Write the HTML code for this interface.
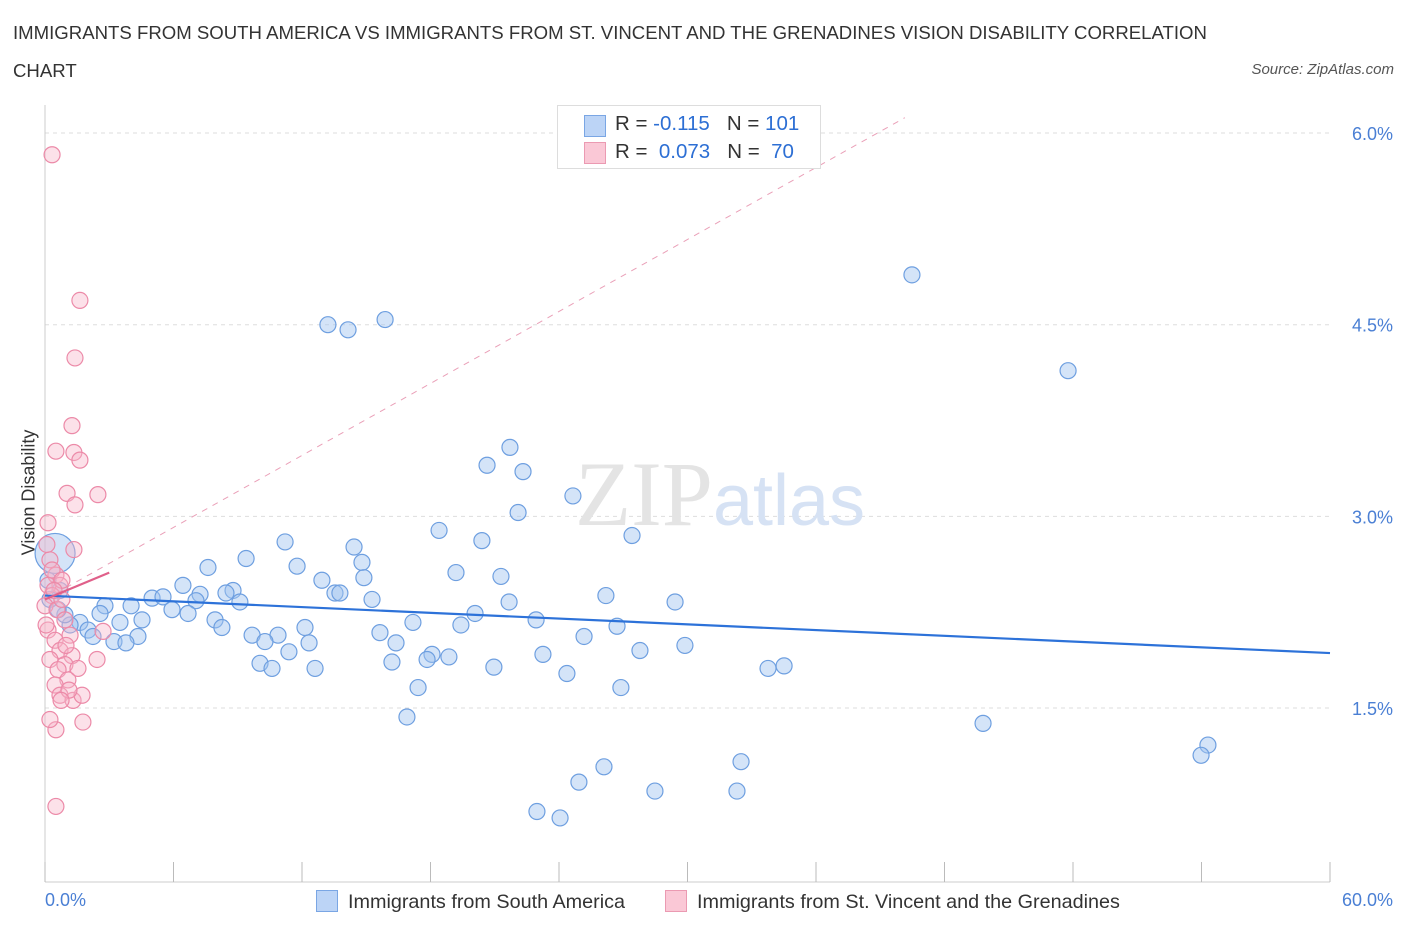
<!DOCTYPE html>
<html><head><meta charset="utf-8">
<style>
body{margin:0;background:#fff;font-family:"Liberation Sans",sans-serif;}
#wrap{position:relative;width:1406px;height:930px;overflow:hidden;}
.t{position:absolute;white-space:nowrap;}
</style></head>
<body>
<div id="wrap">
<div class="t" style="left:13px;top:14px;font-size:18.6px;color:#333;line-height:38px;">IMMIGRANTS FROM SOUTH AMERICA VS IMMIGRANTS FROM ST. VINCENT AND THE GRENADINES VISION DISABILITY CORRELATION<br>CHART</div>
<div class="t" style="right:12px;top:61px;font-size:15px;color:#555;font-style:italic;">Source: ZipAtlas.com</div>
<svg id="svg" width="1406" height="930" style="position:absolute;left:0;top:0"></svg>
</div>
<script>
const blueX=[13.21,14.15,15.88,40.48,47.77,21.71,20.64,22.32,24.65,22.09,18.40,20.40,27.41,11.21,14.43,14.80,9.39,7.61,11.77,19.19,21.29,14.89,12.93,6.44,8.78,8.45,7.24,13.54,13.77,5.00,5.51,7.05,9.10,15.27,26.19,29.42,21.67,4.02,2.80,5.93,6.68,2.57,4.53,7.94,20.08,22.93,19.42,17.18,26.71,1.63,3.50,1.17,2.01,2.24,8.26,12.14,15.64,25.17,10.88,9.67,4.34,3.22,3.78,10.27,12.33,16.39,29.88,27.78,11.39,18.07,18.86,23.25,17.84,10.04,10.60,12.61,16.20,20.96,24.37,33.76,34.51,17.42,26.89,16.90,43.80,54.30,53.98,32.50,26.10,24.93,28.48,32.31,22.97,24.05,0.70,0.93,0.23,0.61,0.14,0.47];
const blueY=[4.50,4.46,4.54,4.89,4.14,3.54,3.40,3.35,3.16,3.03,2.89,2.81,2.85,2.80,2.76,2.64,2.67,2.60,2.61,2.56,2.53,2.52,2.50,2.46,2.42,2.40,2.39,2.40,2.40,2.36,2.37,2.34,2.33,2.35,2.38,2.33,2.33,2.30,2.30,2.27,2.24,2.24,2.19,2.19,2.24,2.19,2.15,2.17,2.14,2.17,2.17,2.15,2.11,2.06,2.13,2.13,2.09,2.06,2.07,2.07,2.06,2.02,2.01,2.02,2.01,2.01,1.99,1.95,1.94,1.92,1.90,1.92,1.88,1.85,1.81,1.81,1.86,1.82,1.77,1.81,1.83,1.66,1.66,1.43,1.38,1.21,1.13,1.08,1.04,0.92,0.85,0.85,0.69,0.64,2.42,2.23,2.35,2.27,2.50,2.71];
const pinkX=[0.33,1.63,1.40,1.26,0.51,1.35,1.63,1.03,2.47,1.40,0.14,1.35,0.23,0.51,0.70,0.14,0.33,0,0.56,0.93,0.14,1.17,0.47,0.70,1.26,0.23,0.93,0.61,1.54,1.07,0.47,0.70,1.31,1.73,1.77,0.51,0.51,2.43,2.71,0.09,0.33,0.79,0.98,1.12,0.75,0.23,0.79,0.42,0.05];
const pinkY=[5.83,4.69,4.24,3.71,3.51,3.50,3.44,3.18,3.17,3.09,2.95,2.74,2.66,2.54,2.46,2.46,2.38,2.30,2.27,2.19,2.11,2.07,2.03,1.95,1.91,1.88,1.84,1.80,1.81,1.72,1.68,1.60,1.56,1.60,1.39,1.33,0.73,1.88,2.10,2.78,2.58,2.35,1.99,1.64,1.56,1.41,2.50,2.42,2.15];
const yTicks=[1.5,3.0,4.5,6.0];
const blueTrend=[2.38,1.93];
const pinkTrend=[2.35,2.56];
const pinkTrendX=[0,3];
const dashEnd=[40.15,6.12];

const X=v=>45+v*1285/60, Y=v=>899.7-v*127.78;
const svg=document.getElementById('svg');const NS='http://www.w3.org/2000/svg';
function mk(t,a,p){const e=document.createElementNS(NS,t);for(const k in a)e.setAttribute(k,a[k]);(p||svg).appendChild(e);return e;}
yTicks.forEach(v=>{
 const l=mk('line',{x1:45,x2:1330,y1:Y(v),y2:Y(v),stroke:'#ddd','stroke-dasharray':'4,4'});
 
 
 const t=mk('text',{x:1393,y:Y(v)+7,'text-anchor':'end','font-size':18,fill:'#4a7fd4','font-family':'Liberation Sans'});
 t.textContent=v.toFixed(1)+'%';
 
 
});
const ax=mk('line',{x1:45,x2:45,y1:105,y2:882,stroke:'#ccc'});


const bx=mk('line',{x1:45,x2:1330,y1:882,y2:882,stroke:'#ccc'});


for(let i=0;i<=10;i++){const tk=mk('line',{x1:X(i*6),x2:X(i*6),y1:862,y2:882,stroke:'#bbb'});
 
 }
const wm=mk('text',{x:720,y:525,'text-anchor':'middle','font-size':92,fill:'#e4e4e4','font-family':'Liberation Serif'});
wm.innerHTML='ZIP<tspan fill="#d6e2f4" font-family="Liberation Sans" font-size="72">atlas</tspan>';


const dl=mk('line',{x1:X(0),y1:Y(pinkTrend[0]),x2:X(dashEnd[0]),y2:Y(dashEnd[1]),stroke:'#eaa0b8','stroke-dasharray':'6,6','stroke-width':1});


blueX.forEach((x,i)=>{const big=i==blueX.length-1;const c=mk('circle',{cx:X(x),cy:Y(blueY[i]),r:big?20:8,fill:'rgba(160,195,240,0.45)',stroke:'#6e9fe0','stroke-width':1.2});
 
 });
pinkX.forEach((x,i)=>{const c=mk('circle',{cx:X(x),cy:Y(pinkY[i]),r:8,fill:'rgba(248,180,200,0.4)',stroke:'#ec8aa8','stroke-width':1.2});
 
 });
const bl=mk('line',{x1:X(0),y1:Y(blueTrend[0]),x2:X(60),y2:Y(blueTrend[1]),stroke:'#2d72d9','stroke-width':2.2});


const pl=mk('line',{x1:X(pinkTrendX[0]),y1:Y(pinkTrend[0]),x2:X(pinkTrendX[1]),y2:Y(pinkTrend[1]),stroke:'#e0608a','stroke-width':2.2});


</script>
<div class="t" style="left:-34px;top:482px;font-size:18px;color:#333;transform:rotate(-90deg);">Vision Disability</div>
<div class="t" style="left:45px;top:890px;font-size:18px;color:#4a7fd4;">0.0%</div>
<div class="t" style="right:13px;top:890px;font-size:18px;color:#4a7fd4;">60.0%</div>
<div style="position:absolute;left:557px;top:105px;width:262px;height:62px;border:1px solid #ddd;background:#fff;font-size:20.5px;color:#333;">
 <div style="position:absolute;left:26px;top:9px;width:20px;height:20px;background:#bcd4f6;border:1px solid #7aa6e4;"></div>
 <div class="t" style="left:57px;top:6px;">R = <span style="color:#2d6fd4">-0.115</span>&nbsp;&nbsp;&nbsp;N = <span style="color:#2d6fd4">101</span></div>
 <div style="position:absolute;left:26px;top:36px;width:20px;height:20px;background:#fac8d6;border:1px solid #eb9ab2;"></div>
 <div class="t" style="left:57px;top:34px;">R = <span style="color:#2d6fd4">&nbsp;0.073</span>&nbsp;&nbsp;&nbsp;N = <span style="color:#2d6fd4">&nbsp;70</span></div>
</div>
<div style="position:absolute;left:316px;top:890px;font-size:19.8px;color:#333;">
 <span style="display:inline-block;width:20px;height:20px;background:#bcd4f6;border:1px solid #7aa6e4;vertical-align:-4px;margin-right:10px;"></span>Immigrants from South America</div>
<div style="position:absolute;left:665px;top:890px;font-size:19.8px;color:#333;">
 <span style="display:inline-block;width:20px;height:20px;background:#fac8d6;border:1px solid #eb9ab2;vertical-align:-4px;margin-right:10px;"></span>Immigrants from St. Vincent and the Grenadines</div>
</body></html>
